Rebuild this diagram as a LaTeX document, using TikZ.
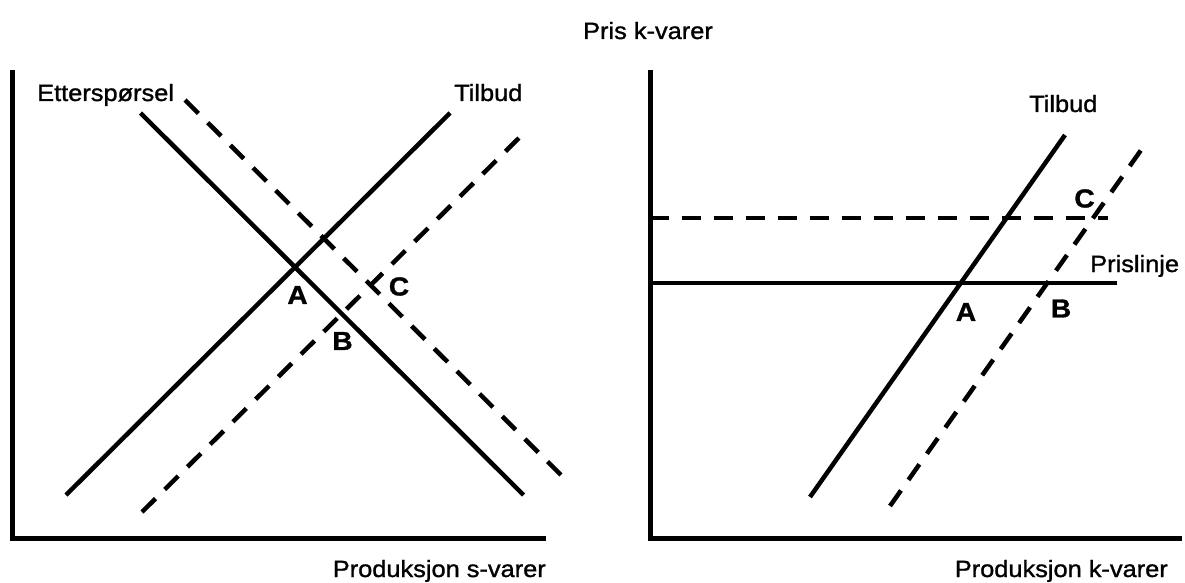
\documentclass[tikz,border=0pt]{standalone}
\usepackage{fontspec}
\setmainfont[FakeStretch=1.08, FakeBold=1.2]{Liberation Sans}
\usetikzlibrary{positioning}
\tikzset{
  axisline/.style={line width=5pt},
  curve/.style={line width=4.5pt},
  shifted/.style={line width=4.5pt, dash pattern=on 19pt off 13pt},
  lbl/.style={inner sep=0pt, font=\fontsize{23.5}{27}\selectfont},
  pointlbl/.style={inner sep=0pt, font=\fontsize{26}{30}\selectfont\bfseries},
}

\begin{document}
\begin{tikzpicture}[x=1pt, y=-1pt]
  \useasboundingbox (0,0) rectangle (1185,583);

  % left panel: s-varer
  \coordinate (sTop) at (12,70);
  \coordinate (sOrig) at (12,538);
  \coordinate (sEnd) at (546,538);
  \draw[axisline] (sTop) -- (sOrig) -- (sEnd);

  \coordinate (dem1) at (140.5,113);  \coordinate (dem2) at (523.5,495);
  \coordinate (sup1) at (66,495);     \coordinate (sup2) at (450,113);
  \coordinate (demN1) at (185,100);   \coordinate (demN2) at (568,482);
  \coordinate (supN1) at (142,512);   \coordinate (supN2) at (527,130);
  \draw[curve] (dem1) -- (dem2);
  \draw[curve] (sup1) -- (sup2);
  \draw[shifted] (demN1) -- (demN2);
  \draw[shifted] (supN1) -- (supN2);

  \node[lbl, anchor=base west] (demLbl) at (37,101) {Etterspørsel};
  \node[lbl, anchor=base west] (supLbl) at (454,101) {Tilbud};
  \node[pointlbl] (sA) at (297.5,295) {A};
  \node[pointlbl] (sB) at (342.5,341) {B};
  \node[pointlbl] (sC) at (399,286.5) {C};
  \node[lbl, anchor=base east] (sAxis) at (546,577) {Produksjon s-varer};

  % right panel: k-varer
  \coordinate (kTop) at (650,70);
  \coordinate (kOrig) at (650,538);
  \coordinate (kEnd) at (1182,538);
  \draw[axisline] (kTop) -- (kOrig) -- (kEnd);

  \coordinate (ksup1) at (810,497);   \coordinate (ksup2) at (1065,135);
  \coordinate (ksupN1) at (890,506);  \coordinate (ksupN2) at (1146,143);
  \coordinate (price1) at (650,283);  \coordinate (price2) at (1117,283);
  \coordinate (priceN1) at (650,218); \coordinate (priceN2) at (1108,218);
  \draw[curve] (ksup1) -- (ksup2);
  \draw[shifted] (ksupN1) -- (ksupN2);
  \draw[curve] (price1) -- (price2);
  \draw[shifted] (priceN1) -- (priceN2);

  \node[lbl, anchor=base] (kPris) at (648,39) {Pris k-varer};
  \node[lbl, anchor=base west] (kSupLbl) at (1029,112) {Tilbud};
  \node[lbl, anchor=base west] (kPriceLbl) at (1090,272) {Prislinje};
  \node[pointlbl] (kA) at (966,312) {A};
  \node[pointlbl] (kB) at (1061,308.5) {B};
  \node[pointlbl] (kC) at (1084.5,198.5) {C};
  \node[lbl, anchor=base east] (kAxis) at (1168,577) {Produksjon k-varer};
\end{tikzpicture}
\end{document}
